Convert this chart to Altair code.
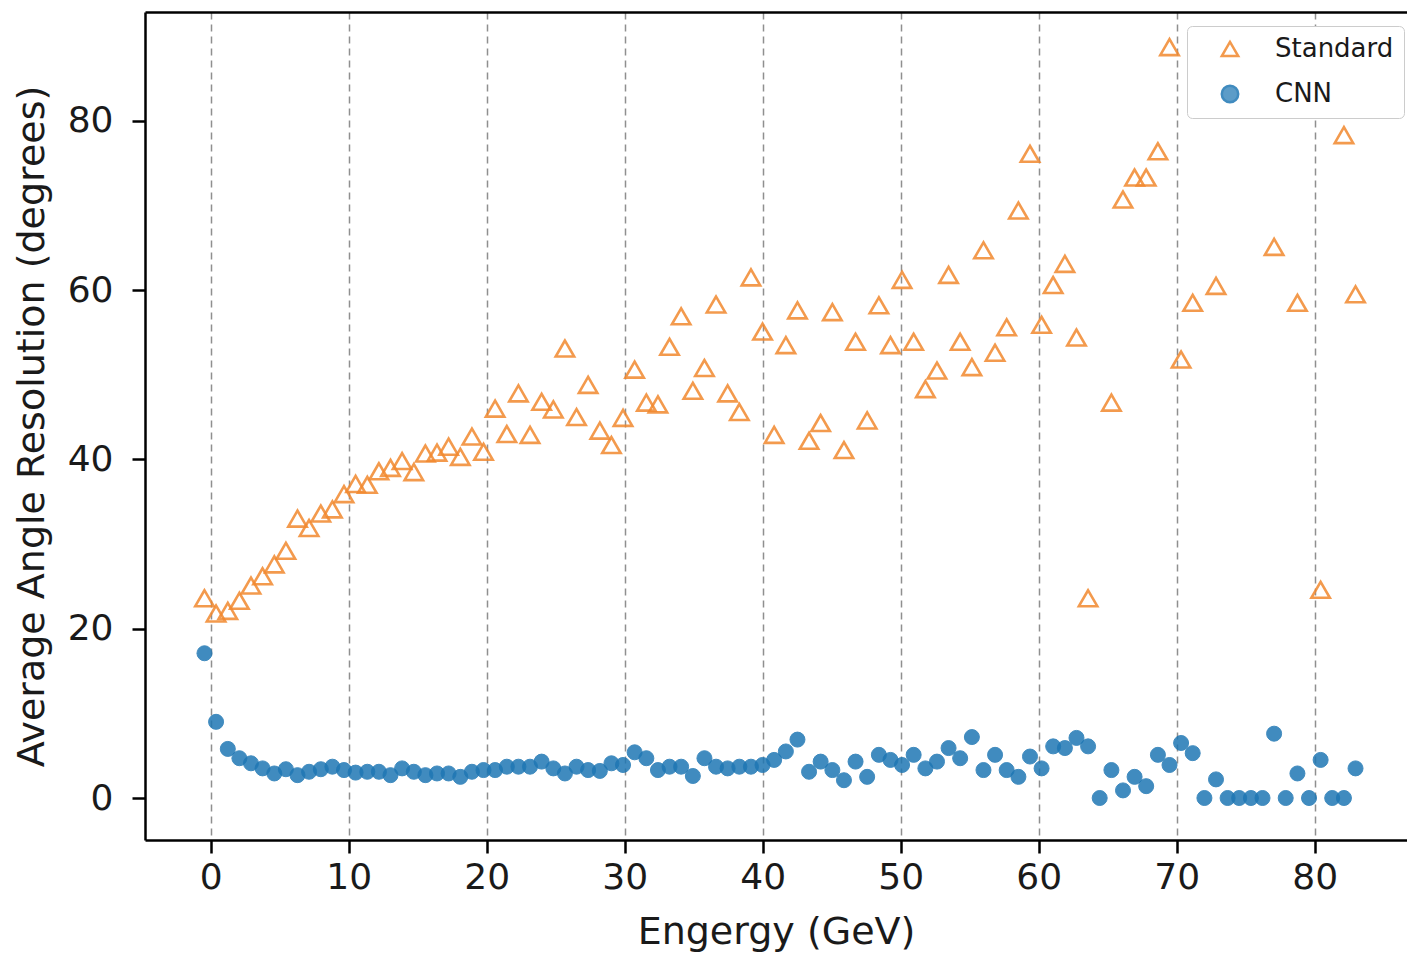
import altair as alt
import pandas as pd

# ---- data ----
energy = [-0.45, 0.39, 1.24, 2.08, 2.92, 3.76, 4.61, 5.45, 6.29, 7.13,
          7.98, 8.82, 9.66, 10.50, 11.35, 12.19, 13.03, 13.87, 14.72, 15.56,
          16.40, 17.24, 18.09, 18.93, 19.77, 20.61, 21.46, 22.30, 23.14, 23.98,
          24.83, 25.67, 26.51, 27.35, 28.20, 29.04, 29.88, 30.72, 31.57, 32.41,
          33.25, 34.09, 34.94, 35.78, 36.62, 37.46, 38.31, 39.15, 39.99, 40.83,
          41.68, 42.52, 43.36, 44.20, 45.05, 45.89, 46.73, 47.57, 48.42, 49.26,
          50.10, 50.94, 51.79, 52.63, 53.47, 54.31, 55.16, 56.00, 56.84, 57.68,
          58.53, 59.37, 60.21, 61.05, 61.90, 62.74, 63.58, 64.42, 65.27, 66.11,
          66.95, 67.79, 68.64, 69.48, 70.32, 71.16, 72.01, 72.85, 73.69, 74.53,
          75.38, 76.22, 77.06, 77.90, 78.75, 79.59, 80.43, 81.27, 82.12, 82.96]

# None = no triangle visible at that energy
standard = [23.6, 21.8, 22.1, 23.3, 25.1, 26.2, 27.6, 29.2, 33.0, 31.9,
            33.6, 34.1, 35.9, 37.1, 37.0, 38.6, 39.0, 39.8, 38.5, 40.7,
            40.8, 41.5, 40.3, 42.7, 40.9, 46.0, 43.0, 47.8, 42.9, 46.8,
            45.9, 53.1, 45.0, 48.8, 43.4, 41.7, 44.9, 50.6, 46.7, 46.5,
            53.3, 56.9, 48.1, 50.8, 58.3, 47.8, 45.6, 61.5, 55.1, 42.9,
            53.5, 57.6, 42.2, 44.3, 57.4, 41.1, 53.9, 44.6, 58.2, 53.5,
            61.2, 53.9, 48.3, 50.5, 61.8, 53.9, 50.9, 64.7, 52.6, 55.6,
            69.4, 76.1, 55.9, 60.6, 63.1, 54.4, 23.6, None, 46.7, 70.7,
            73.3, 73.3, 76.4, 88.7, 51.8, 58.5, None, 60.5, None, None,
            None, None, 65.1, None, 58.5, None, 24.6, None, 78.3, 59.5]

cnn = [17.1, 9.0, 5.8, 4.7, 4.1, 3.5, 2.9, 3.4, 2.7, 3.1,
       3.4, 3.7, 3.3, 3.0, 3.1, 3.1, 2.7, 3.5, 3.1, 2.7,
       2.9, 2.9, 2.5, 3.1, 3.3, 3.3, 3.7, 3.7, 3.7, 4.3,
       3.5, 2.9, 3.7, 3.3, 3.2, 4.1, 3.9, 5.4, 4.7, 3.3,
       3.7, 3.7, 2.6, 4.7, 3.7, 3.5, 3.7, 3.7, 3.9, 4.5,
       5.5, 6.9, 3.1, 4.3, 3.3, 2.1, 4.3, 2.5, 5.1, 4.5,
       3.9, 5.1, 3.5, 4.3, 5.9, 4.7, 7.2, 3.3, 5.1, 3.3,
       2.5, 4.9, 3.5, 6.1, 5.9, 7.1, 6.1, 0.0, 3.3, 0.9,
       2.5, 1.4, 5.1, 3.9, 6.5, 5.3, 0.0, 2.2, 0.0, 0.0,
       0.0, 0.0, 7.6, 0.0, 2.9, 0.0, 4.5, 0.0, 0.0, 3.5]

series_names = ["Standard", "CNN"]
x_ticks = [0, 10, 20, 30, 40, 50, 60, 70, 80]
y_ticks = [0, 20, 40, 60, 80]

df_std = pd.DataFrame({"energy": energy, "value": standard, "series": "Standard"}).dropna()
df_cnn = pd.DataFrame({"energy": energy, "value": cnn, "series": "CNN"})

ORANGE = "#f2892f"
BLUE = "#1f77b4"
FONT = "DejaVu Sans"
TXT = "#1a1a1a"

xscale = alt.Scale(domain=[-4.76, 86.69], nice=False, zero=False)
yscale = alt.Scale(domain=[-4.96, 92.85], nice=False, zero=False)

xaxis = alt.Axis(values=x_ticks, grid=True, gridDash=[7, 5], gridColor="#8f8f8f",
                 gridWidth=1.5, domainColor="black", domainWidth=2.5,
                 tickColor="black", tickSize=13, tickWidth=2.5,
                 labelFont=FONT, labelFontSize=36, labelColor=TXT, labelPadding=7,
                 title="Engergy (GeV)", titleFont=FONT, titleFontSize=38,
                 titleFontWeight="normal", titleColor=TXT, titlePadding=18)
yaxis = alt.Axis(values=y_ticks, grid=False, domainColor="black", domainWidth=2.5,
                 tickColor="black", tickSize=13, tickWidth=2.5,
                 labelFont=FONT, labelFontSize=36, labelColor=TXT, labelPadding=19,
                 title="Average Angle Resolution (degrees)", titleFont=FONT,
                 titleFontSize=38, titleFontWeight="normal", titleColor=TXT,
                 titlePadding=16)

legend = alt.Legend(orient="none", legendX=1042, legendY=14, title=None,
                    labelFont=FONT, labelFontSize=26, labelColor=TXT,
                    symbolSize=270, symbolStrokeWidth=2.5, padding=10,
                    symbolOffset=20, labelOffset=32, rowPadding=18,
                    strokeColor="#cccccc", fillColor="white", cornerRadius=5)

shape_enc = alt.Shape("series:N", scale=alt.Scale(domain=series_names, range=["triangle-up", "circle"]), legend=legend)
stroke_enc = alt.Stroke("series:N", scale=alt.Scale(domain=series_names, range=[ORANGE, BLUE]), legend=legend)
fill_enc = alt.Fill("series:N", scale=alt.Scale(domain=series_names, range=["transparent", BLUE]), legend=legend)

std_layer = alt.Chart(df_std).mark_point(size=340, strokeWidth=2.6, opacity=0.85).encode(
    x=alt.X("energy:Q", scale=xscale, axis=xaxis),
    y=alt.Y("value:Q", scale=yscale, axis=yaxis),
    shape=shape_enc, stroke=stroke_enc, fill=fill_enc,
)

cnn_layer = alt.Chart(df_cnn).mark_point(size=225, strokeWidth=1, opacity=0.85).encode(
    x=alt.X("energy:Q", scale=xscale, axis=None),
    y=alt.Y("value:Q", scale=yscale, axis=yaxis),
    shape=shape_enc, stroke=stroke_enc, fill=fill_enc,
)

top_border = alt.Chart(df_cnn).mark_point(opacity=0).encode(
    x=alt.X("energy:Q", scale=xscale,
            axis=alt.Axis(orient="top", labels=False, ticks=False, grid=False,
                          domainColor="black", domainWidth=2.5, title=None)),
    y=alt.Y("value:Q", scale=yscale, axis=yaxis),
)

chart = alt.layer(std_layer, cnn_layer, top_border).resolve_axis(x="independent").properties(
    width=1262, height=828,
    autosize=alt.AutoSizeParams(type="none"),
    padding={"left": 145, "top": 12, "right": 0, "bottom": 112},
    background="white",
).configure_view(stroke=None)

chart.save("out.html", embed_options={"renderer": "svg", "actions": False})
